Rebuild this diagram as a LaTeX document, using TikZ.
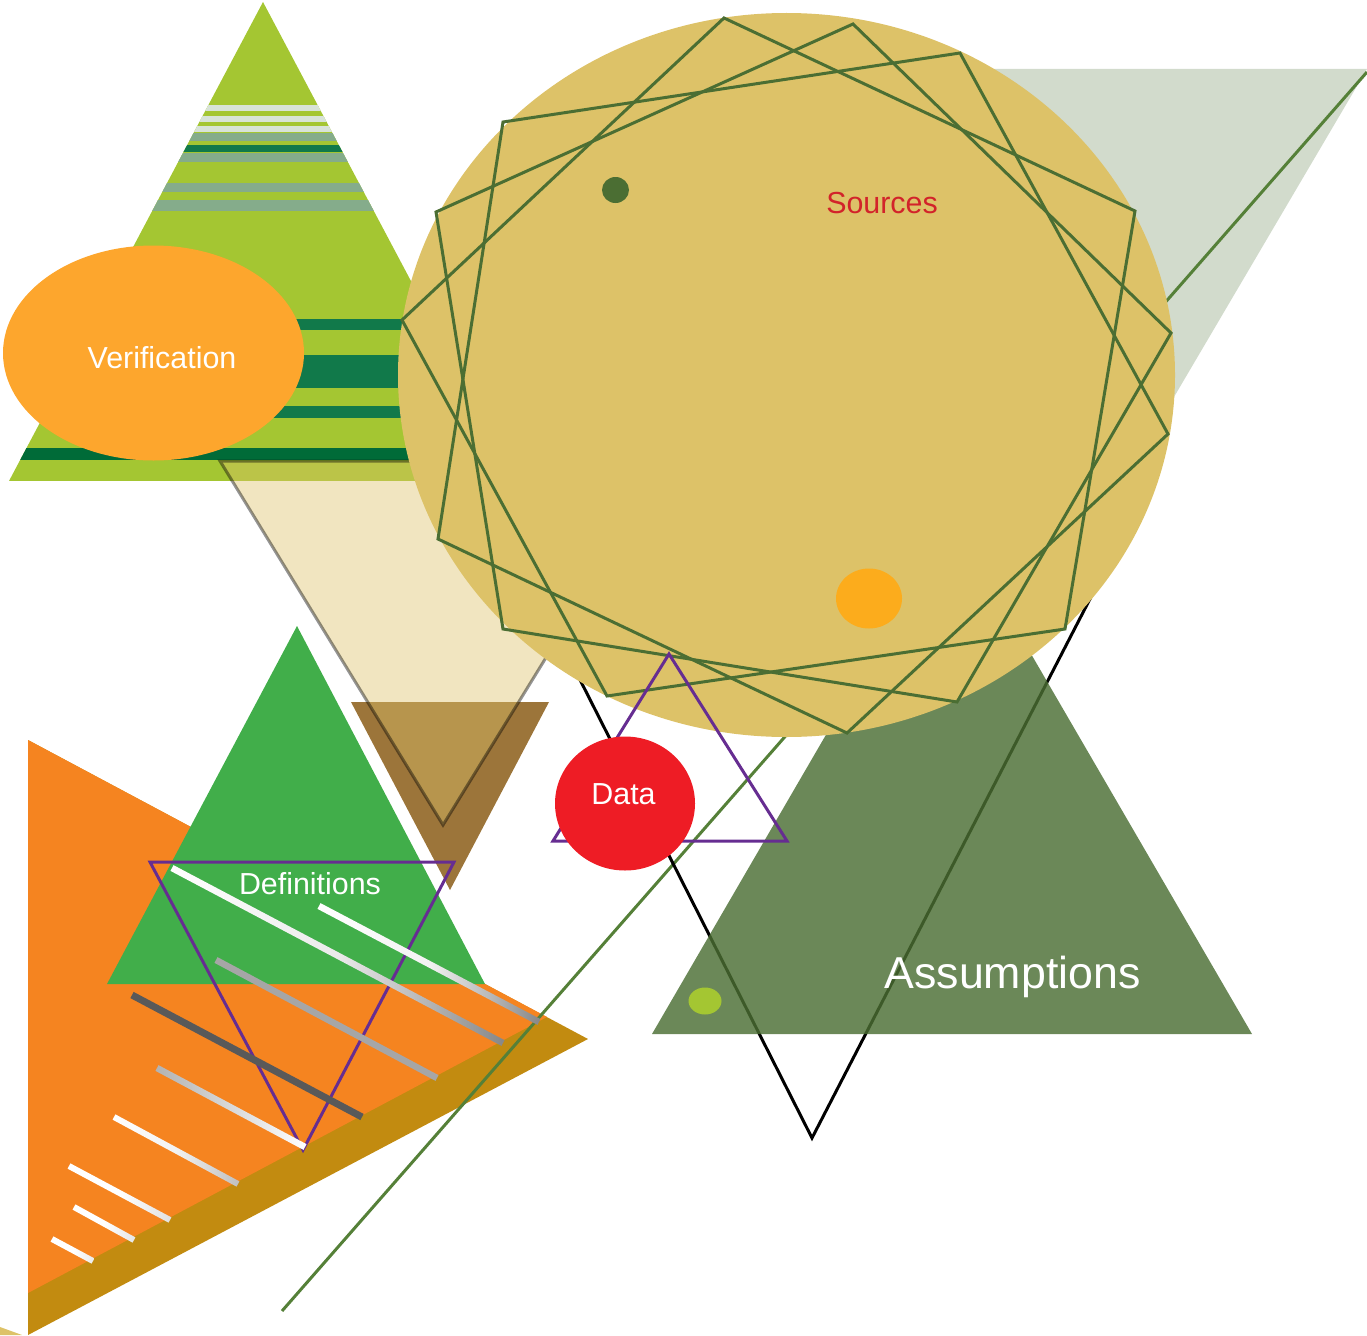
\documentclass[tikz,border=0pt]{standalone}
\usepackage{fontspec}
\setmainfont{Liberation Sans}
\usetikzlibrary{calc}
\definecolor{leaf}{HTML}{A4C632}
\definecolor{pale}{HTML}{D8E3D8}
\definecolor{sage}{HTML}{85AC8B}
\definecolor{forest}{HTML}{11794A}
\definecolor{deep}{HTML}{006B38}
\definecolor{tan}{HTML}{DDC268}
\definecolor{moss}{HTML}{4B6E33}
\definecolor{grass}{HTML}{558038}
\definecolor{amber}{HTML}{FDA62D}
\definecolor{honey}{HTML}{FCAC1C}
\definecolor{ember}{HTML}{F58420}
\definecolor{ochre}{HTML}{C28B10}
\definecolor{kelly}{HTML}{41AE4A}
\definecolor{umber}{HTML}{9C753A}
\definecolor{plum}{HTML}{662D91}
\definecolor{scarlet}{HTML}{EE1C25}
\definecolor{brick}{HTML}{D2232A}
\tikzset{
  x=1pt,y=-1pt,
  every node/.style={inner sep=0pt,outer sep=0pt},
  starline/.style={draw=moss,line width=3pt,line join=miter},
  plumline/.style={draw=plum,line width=3pt,line join=miter},
  label28/.style={text=white,font=\fontsize{30.4}{36}\selectfont},
}
% from (x1,y1) to (x2,y2), width, start, middle, end colours
\newcommand\gbar[8]{%
  \path let \p1=(#1,#2), \p2=(#3,#4), \n1={atan2(\y2-\y1,\x2-\x1)}, \n2={veclen(\x2-\x1,\y2-\y1)} in
    ($(#1,#2)!.5!(#3,#4)$) node[rotate=\n1,minimum width=\n2,minimum height=#5,left color=#6,right color=#8,middle color=#7]{};
}
\newcommand\band[3]{\fill[#3] (0,#1) rectangle (560,#2);}
\begin{document}
\begin{tikzpicture}
\useasboundingbox (0,0) rectangle (1367,1335);
% pale triangle behind the disc
\fill[moss,opacity=.25] (767,69) -- (1367,69) -- (1061,589) -- cycle;
% striped triangle
\begin{scope}
  \clip (263,2) -- (517,481) -- (9,481) -- cycle;
  \fill[leaf] (0,0) rectangle (560,481);
  \band{105}{111}{pale}\band{116}{122}{pale}\band{126}{132}{pale}
  \band{133}{141}{sage}\band{145}{152}{forest}\band{153}{162}{sage}
  \band{183}{192}{sage}\band{200}{211}{sage}
  \band{319}{330}{forest}\band{355}{388}{forest}\band{406}{418}{forest}\band{448}{460}{deep}
\end{scope}
% bottom-left shapes
\fill[tan] (0,1327) -- (22,1335) -- (0,1335) -- cycle;
\fill[ochre] (28,740) -- (588,1039) -- (28,1335) -- cycle;
\fill[ember] (28,740) -- (547,1017) -- (28,1293) -- cycle;
\fill[kelly] (297,626) -- (485,984) -- (107,984) -- cycle;
\fill[umber] (351,702) -- (549,702) -- (450,890) -- cycle;
% translucent triangle
\path[draw=black,fill=tan,line width=3pt,opacity=.42,transparency group] (220,461) -- (667,461) -- (443,825) -- cycle;
% long green line
\coordinate (lineA) at (1367,72);
\coordinate (lineB) at (282,1311);
\draw[grass,line width=3pt] (lineA) -- (lineB);
% black triangle and assumptions triangle
\draw[black,line width=3pt] (489,500) -- (1141,500) -- (812,1138) -- cycle;
\fill[moss,opacity=.82] (952,518) -- (1252,1034) -- (652,1034) -- cycle;
\fill[leaf] (705,1001) ellipse [x radius=16.5,y radius=13.5];
% disc
\fill[tan] (786.5,375) ellipse [x radius=388.5,y radius=362];
\draw[starline] (503,122) -- (960,53) -- (1168,434) -- (847,733) -- (438,539) -- cycle;
\draw[starline] (724,18) -- (1135,211) -- (1065,629) -- (607,696) -- (402,320) -- cycle;
\draw[starline] (853,24) -- (1171,333) -- (957,702) -- (503,629) -- (436,212) -- cycle;
\fill[moss] (615.5,190) ellipse [x radius=13.5,y radius=13];
\fill[honey] (869,598.5) ellipse [x radius=33,y radius=30];
% purple triangles
\draw[plumline] (150,862) -- (454,862) -- (303,1150) -- cycle;
\draw[plumline] (669,654) -- (787,841) -- (553,841) -- cycle;
% gradient bars
\gbar{172}{868}{503}{1043}{6.5pt}{white}{black!8}{black!47}
\gbar{319}{906}{539}{1022}{6.5pt}{white}{black!5}{black!47}
\gbar{216}{960}{437}{1078}{6.5pt}{black!35}{black!35}{black!35}
\gbar{132}{995}{362}{1117}{7pt}{black!65}{black!65}{black!65}
\gbar{157}{1068}{305}{1147}{6.5pt}{black!30}{black!15}{white}
\gbar{114}{1117}{238}{1184}{6pt}{white}{white!95!black}{black!25}
\gbar{69}{1166}{170}{1220}{6pt}{white}{white}{black!12}
\gbar{74}{1207}{134}{1240}{6pt}{white}{white}{black!10}
\gbar{52}{1239}{93}{1261}{6pt}{white}{white}{black!8}
% ellipses
\fill[amber] (153.5,353) ellipse [x radius=150.5,y radius=107.5];
\fill[scarlet] (625,803.5) ellipse [x radius=70,y radius=67];
% labels
\node[label28] (verification) at (162,358) {Verification};
\node[label28,text=brick] (sources) at (882,203) {Sources};
\node[label28] (data) at (623.5,794) {Data};
\node[label28] (definitions) at (310,884) {Definitions};
\node[text=white,font=\fontsize{44.7}{52}\selectfont] (assumptions) at (1012.5,977) {Assumptions};
\end{tikzpicture}
\end{document}
